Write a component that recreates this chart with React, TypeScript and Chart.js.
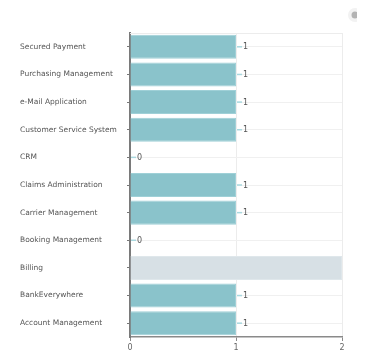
import React, { useEffect, useRef } from "react";
import { Chart, registerables } from "chart.js";

Chart.register(...registerables);

const categories = [
  "Secured Payment",
  "Purchasing Management",
  "e-Mail Application",
  "Customer Service System",
  "CRM",
  "Claims Administration",
  "Carrier Management",
  "Booking Management",
  "Billing",
  "BankEverywhere",
  "Account Management",
];
const values = [1, 1, 1, 1, 0, 1, 1, 0, 2, 1, 1];
const highlighted = [false, false, false, false, false, false, false, false, true, false, false];
const xTicks = [0, 1, 2];

const TEAL = "#8ac3cb";
const GREY = "#d7e0e5";

const frameAndIcon = {
  id: "frameAndIcon",
  beforeDatasetsDraw(chart: any) {
    const { ctx, chartArea } = chart;
    ctx.save();
    ctx.strokeStyle = "#ececec";
    ctx.lineWidth = 1;
    ctx.beginPath();
    ctx.moveTo(chartArea.left, chartArea.top + 0.5);
    ctx.lineTo(chartArea.right, chartArea.top + 0.5);
    ctx.stroke();
    ctx.restore();
  },
  afterDraw(chart: any) {
    const { ctx } = chart;
    ctx.save();
    ctx.beginPath();
    ctx.rect(340, 0, 17, 30);
    ctx.clip();
    ctx.fillStyle = "#f2f2f2";
    ctx.beginPath();
    ctx.arc(355, 15, 7, 0, Math.PI * 2);
    ctx.fill();
    ctx.fillStyle = "#b3b3b3";
    ctx.beginPath();
    ctx.arc(355, 15, 3.5, 0, Math.PI * 2);
    ctx.fill();
    ctx.restore();
  },
};

const valueLabels = {
  id: "valueLabels",
  afterDatasetsDraw(chart: any) {
    const { ctx } = chart;
    const meta = chart.getDatasetMeta(0);
    ctx.save();
    meta.data.forEach((bar: any, i: number) => {
      if (highlighted[i]) return;
      const x = bar.x;
      const y = bar.y;
      ctx.strokeStyle = "#a9d8df";
      ctx.lineWidth = 1.5;
      ctx.beginPath();
      ctx.moveTo(x + 1, y);
      ctx.lineTo(x + 6, y);
      ctx.stroke();
      ctx.fillStyle = "#555";
      ctx.font = "8px 'DejaVu Sans'";
      ctx.textAlign = "left";
      ctx.textBaseline = "middle";
      ctx.fillText(String(values[i]), x + 7, y + 0.5);
    });
    ctx.restore();
  },
};

export default function App() {
  const canvasRef = useRef<HTMLCanvasElement | null>(null);

  useEffect(() => {
    if (!canvasRef.current) return;
    const chart = new Chart(canvasRef.current, {
      type: "bar",
      data: {
        labels: categories,
        datasets: [
          {
            data: values,
            backgroundColor: highlighted.map((h) => (h ? GREY : TEAL)),
            borderColor: highlighted.map((h) => (h ? "#dfe7eb" : "#9fd0d7")),
            borderWidth: 1,
            barPercentage: 0.87,
            categoryPercentage: 1,
          },
        ],
      },
      options: {
        indexAxis: "y",
        animation: false,
        responsive: false,
        maintainAspectRatio: false,
        layout: { padding: { left: 20, top: 33, right: 29, bottom: 0 } },
        plugins: {
          legend: { display: false },
          tooltip: { enabled: false },
        },
        scales: {
          x: {
            min: 0,
            max: 2,
            afterBuildTicks: (scale: any) => {
              scale.ticks = xTicks.map((v) => ({ value: v }));
            },
            afterFit: (scale: any) => {
              scale.height = 21;
            },
            ticks: {
              color: "#666",
              font: { family: "'DejaVu Sans'", size: 8 },
              padding: 2,
              maxRotation: 0,
            },
            grid: {
              color: "#ececec",
              tickColor: "#888",
              tickLength: 4,
            },
            border: { color: "#8a8a8a", width: 1.5 },
          },
          y: {
            afterFit: (scale: any) => {
              scale.width = 110;
            },
            ticks: {
              crossAlign: "far",
              color: "#555",
              font: { family: "'DejaVu Sans'", size: 7.5 },
              autoSkip: false,
              padding: 2,
            },
            grid: {
              offset: false,
              color: "#f0f0f0",
              tickColor: "#777",
              tickLength: 3,
            },
            border: { color: "#7a7a7a", width: 2 },
          },
        },
      },
      plugins: [frameAndIcon, valueLabels],
    });
    return () => chart.destroy();
  }, []);

  return (
    <div style={{ position: "absolute", left: 0, top: 0, width: 371, height: 358, background: "#fff" }}>
      <canvas ref={canvasRef} width={371} height={358} style={{ display: "block" }} />
    </div>
  );
}
